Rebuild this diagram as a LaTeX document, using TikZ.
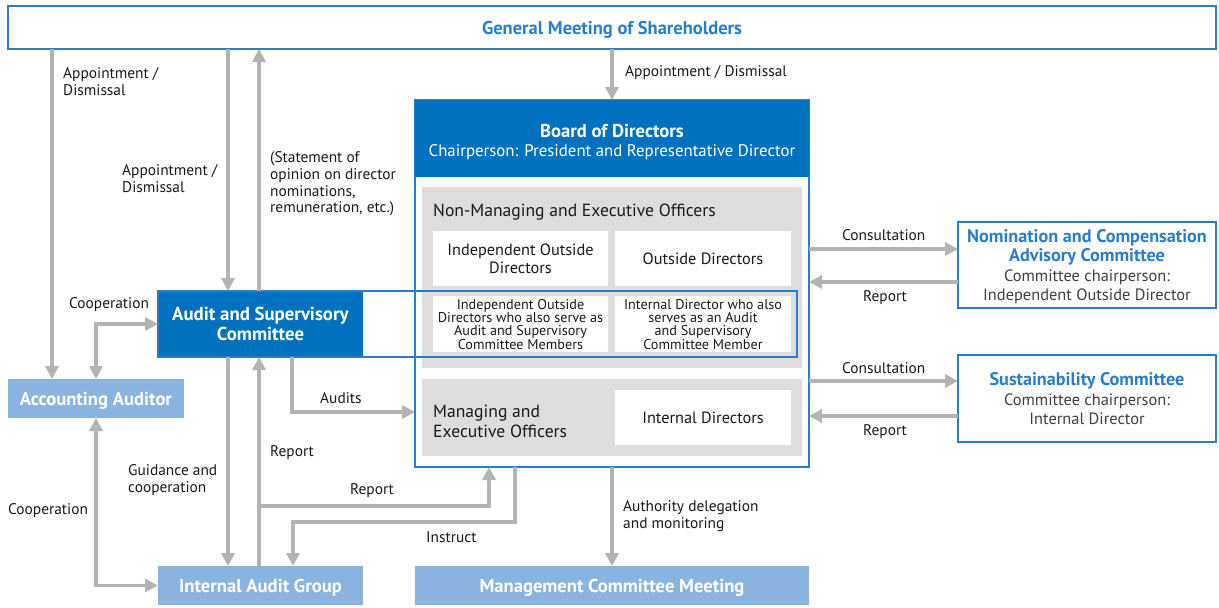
\documentclass[tikz,border=0pt]{standalone}
\usepackage{fontspec}
\setmainfont{PT Sans}
\usetikzlibrary{arrows.meta,calc}
\definecolor{dblue}{HTML}{0071BF}
\definecolor{bblue}{HTML}{2A7DCB}
\definecolor{lblue}{HTML}{8AB3DF}
\definecolor{panel}{HTML}{DDDDDD}
\definecolor{agray}{HTML}{B3B3B3}
\definecolor{txt}{HTML}{1A1A1A}
\definecolor{subtxt}{HTML}{404040}
\begin{document}
\begin{tikzpicture}[x=1pt,y=-1pt,
  box/.style={anchor=north west,inner sep=0pt,outer sep=0pt,align=center,text=txt,text depth=0pt},
  bigf/.style={font=\fontsize{16.3}{18}\selectfont},
  smallf/.style={font=\fontsize{14.2}{13}\selectfont},
  lbl/.style={anchor=west,inner sep=0pt,align=left,text=txt,font=\fontsize{15.4}{16.8}\selectfont},
  arr/.style={draw=agray,line width=3.5pt,-{Triangle[width=13pt,length=13pt]}},
  darr/.style={draw=agray,line width=3.5pt,{Triangle[width=13pt,length=13pt]}-{Triangle[width=13pt,length=13pt]}},
  bline/.style={draw=bblue,line width=1.5pt}]
\useasboundingbox[fill=white] (0,0) rectangle (1219,608);

% coordinates for connector columns/rows
\coordinate (c52) at (52,0);
\coordinate (c228) at (228,0);
\coordinate (c259) at (259,0);
\coordinate (c292) at (292,0);
\coordinate (c489) at (489,0);
\coordinate (c515) at (515,0);
\coordinate (r412) at (0,412);
\coordinate (r249) at (0,249);
\coordinate (r282) at (0,282);
\coordinate (r381) at (0,381);
\coordinate (r416) at (0,416);
\coordinate (rep) at (259,506);
\coordinate (ins) at (293,522);

% top
\node[box,bline,fill=white,minimum width=1208pt,minimum height=43pt,font=\fontsize{18.5}{20}\selectfont,text=bblue] (gms) at (8,6) {\textbf{General Meeting of Shareholders}};

% Board of directors
\node[box,bline,minimum width=394pt,minimum height=367pt] (bod) at (415,100) {};
\node[box,fill=dblue,minimum width=394pt,minimum height=77pt] (bodh) at (415,100) {};
\node[align=center,inner sep=0pt,text=white,font=\fontsize{16.8}{19.5}\selectfont] (bodt) at (612,142) {{\fontsize{18.6}{19.5}\selectfont\textbf{Board of Directors}}\\Chairperson: President and Representative Director};
\node[box,fill=panel,minimum width=380pt,minimum height=181pt] (p1) at (422,187) {};
\node[lbl,font=\fontsize{17.6}{18}\selectfont] (p1t) at (433,212) {Non-Managing and Executive Officers};
\node[box,fill=white,minimum width=175pt,minimum height=55pt,bigf] (iod) at (433,231) {Independent Outside\\Directors};
\node[box,fill=white,minimum width=176pt,minimum height=55pt,bigf] (od) at (615,231) {Outside Directors};
\node[box,fill=white,minimum width=175pt,minimum height=56pt,smallf] (iodasc) at (433,296) {Independent Outside\\Directors who also serve as\\Audit and Supervisory\\Committee Members};
\node[box,fill=white,minimum width=176pt,minimum height=56pt,smallf] (idasc) at (615,296) {Internal Director who also\\serves as an Audit\\and Supervisory\\Committee Member};
\node[box,fill=panel,minimum width=380pt,minimum height=77pt] (p2) at (422,379) {};
\node[lbl,font=\fontsize{17.6}{20}\selectfont] (p2t) at (433,421) {Managing and\\Executive Officers};
\node[box,fill=white,minimum width=176pt,minimum height=55pt,bigf] (id) at (615,390) {Internal Directors};

% Audit and supervisory committee
\node[box,fill=dblue,minimum width=205pt,minimum height=66pt,text=white,font=\fontsize{18.8}{20}\selectfont] (asc) at (158,291) {\textbf{Audit and Supervisory}\\\textbf{Committee}};
\node[box,bline,minimum width=639pt,minimum height=66pt] (ascx) at (158,291) {};

% other boxes
\node[box,fill=lblue,minimum width=176pt,minimum height=39pt,text=white,font=\fontsize{18.6}{20}\selectfont] (aa) at (8,379) {\textbf{Accounting Auditor}};
\node[box,fill=lblue,minimum width=205pt,minimum height=39pt,text=white,font=\fontsize{18.6}{20}\selectfont] (iag) at (158,566) {\textbf{Internal Audit Group}};
\node[box,fill=lblue,minimum width=394pt,minimum height=39pt,text=white,font=\fontsize{18.6}{20}\selectfont] (mcm) at (415,566) {\textbf{Management Committee Meeting}};
\node[box,bline,minimum width=258pt,minimum height=86pt,font=\fontsize{16.4}{19.5}\selectfont] (ncac) at (958,222) {\textcolor{bblue}{\fontsize{18.2}{19.5}\selectfont\textbf{Nomination and Compensation}}\\\textcolor{bblue}{\fontsize{18.2}{19.5}\selectfont\textbf{Advisory Committee}}\\\textcolor{subtxt}{Committee chairperson:}\\\textcolor{subtxt}{Independent Outside Director}};
\node[box,bline,minimum width=258pt,minimum height=87pt,font=\fontsize{16.4}{19.5}\selectfont] (sc) at (958,355) {\textcolor{bblue}{\fontsize{18.2}{19.5}\selectfont\textbf{Sustainability Committee}}\\\textcolor{subtxt}{Committee chairperson:}\\\textcolor{subtxt}{Internal Director}};

% connectors
\draw[arr] (gms.south -| c52) -- (aa.north -| c52);
\draw[arr] (gms.south -| c228) -- (asc.north -| c228);
\draw[arr] (asc.north -| c259) -- (gms.south -| c259);
\draw[arr] (gms.south -| bod.north) -- (bod.north);
\draw[darr] (asc.west) -| (aa.north);
\draw[darr] (aa.south) |- (iag.west);
\draw[arr] (asc.south -| c228) -- (iag.north -| c228);
\draw[arr] (iag.north -| c259) -- (asc.south -| c259);
\draw[arr] (rep) -| (bod.south -| c489);
\draw[arr] (bod.south -| c515) |- (ins) -- (iag.north -| ins);
\draw[arr] (asc.south -| c292) |- (bod.west |- r412);
\draw[arr] (bod.south) -- (mcm.north);
\draw[arr] (bod.east |- r249) -- (ncac.west |- r249);
\draw[arr] (ncac.west |- r282) -- (bod.east |- r282);
\draw[arr] (bod.east |- r381) -- (sc.west |- r381);
\draw[arr] (sc.west |- r416) -- (bod.east |- r416);

% labels
\node[lbl] (l1) at (63,82) {Appointment /\\Dismissal};
\node[lbl] (l2) at (122,179) {Appointment /\\Dismissal};
\node[lbl] (l3) at (270,184) {(Statement of\\opinion on director\\nominations,\\remuneration, etc.)};
\node[lbl] (l4) at (625,73) {Appointment / Dismissal};
\node[lbl] (l5) at (69,305) {Cooperation};
\node[lbl] (l6) at (8,511) {Cooperation};
\node[lbl] (l7) at (128,480) {Guidance and\\cooperation};
\node[lbl] (l8) at (270,453) {Report};
\node[lbl] (l9) at (350,491) {Report};
\node[lbl] (l10) at (426,537) {Instruct};
\node[lbl] (l11) at (320,398) {Audits};
\node[lbl] (l12) at (623,516) {Authority delegation\\and monitoring};
\node[lbl] (l13) at (842,235) {Consultation};
\node[lbl] (l14) at (863,298) {Report};
\node[lbl] (l15) at (842,368) {Consultation};
\node[lbl] (l16) at (863,432) {Report};
\end{tikzpicture}
\end{document}
